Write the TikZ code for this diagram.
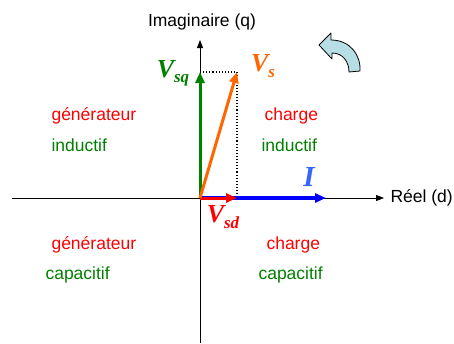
\documentclass[tikz,border=0pt]{standalone}
\usepackage{fontspec}
\setmainfont{Liberation Serif}
\newfontfamily\axfont{Liberation Sans}
\definecolor{vgreen}{RGB}{0,128,0}
\definecolor{vorange}{RGB}{255,102,0}
\definecolor{vred}{RGB}{255,0,0}
\definecolor{vblue}{RGB}{0,0,255}
\definecolor{ilabel}{RGB}{51,102,255}
\definecolor{rotfill}{RGB}{183,222,228}
\usetikzlibrary{arrows.meta,positioning}
\newcommand{\phasor}[2]{\bfseries\itshape #1\raisebox{-0.45ex}{\fontsize{17}{17}\selectfont #2}}

\begin{document}
\begin{tikzpicture}[x=1pt,y=-1pt,
  axis/.style={black, line width=0.8pt, -{Triangle[length=8pt,width=6pt]}},
  vec/.style={line width=3pt, -{Triangle[length=11pt,width=9pt]}},
  quad/.style={font=\axfont\fontsize{17.5}{19}\selectfont, anchor=west},
  vlab/.style={font=\fontsize{26}{27}\selectfont}
]
  \useasboundingbox (0,0) rectangle (454,343);
  % axes
  \coordinate (O) at (200,198);
  \coordinate (xl) at (12,198);
  \coordinate (xr) at (384,198);
  \coordinate (yb) at (200,343);
  \coordinate (yt) at (200,40);
  \draw[axis] (xl) -- (xr);
  \draw[axis] (yb) -- (yt);
  \node[font=\axfont\fontsize{17.5}{19}\selectfont, anchor=west] (reel) at (387,198) {Réel (d)};
  \node[font=\axfont\fontsize{17.5}{19}\selectfont] (imag) at (202,22) {Imaginaire (q)};
  % projection
  \coordinate (Vsq) at (200,72);
  \coordinate (Vs) at (237,72);
  \coordinate (Vsd) at (237,198);
  \coordinate (Itip) at (326,198);
  \draw[dotted, line width=1.1pt] (Vsq) -- (Vs) -- (Vsd);
  % phasors
  \draw[vec, vblue, line width=4pt] (O) -- (Itip);
  \draw[vec, vred] (O) -- (Vsd);
  \draw[vec, vgreen] (O) -- (Vsq);
  \draw[vec, vorange] (O) -- (Vs);
  \node[vlab, text=vgreen] (lsq) at (173,73) {\phasor{V}{sq}};
  \node[vlab, text=vorange] (ls) at (263,66) {\phasor{V}{s}};
  \node[vlab, text=vred] (lsd) at (223,217) {\phasor{V}{sd}};
  \node[vlab, text=ilabel, font=\fontsize{29}{30}\selectfont] (li) at (309,177) {\bfseries\itshape I};
  % quadrants
  \node[quad, text=vred] (gi) at (48,116) {générateur};
  \node[quad, text=vgreen] (gi2) at (48,145) {inductif};
  \node[quad, text=vred] (ci) at (261,116) {charge};
  \node[quad, text=vgreen] (ci2) at (258,145) {inductif};
  \node[quad, text=vred] (gc) at (48,245) {générateur};
  \node[quad, text=vgreen] (gc2) at (42,275) {capacitif};
  \node[quad, text=vred] (cc) at (263,245) {charge};
  \node[quad, text=vgreen] (cc2) at (255,275) {capacitif};
  % rotation sense
  \filldraw[fill=rotfill, draw=black, line width=0.8pt, line join=round]
    (319,45) -- (331,33) -- (331,40) .. controls (350,40) and (361,55) .. (360,71)
    -- (349,72) .. controls (349,62) and (343,53) .. (332,53) -- (332,59) -- cycle;
\end{tikzpicture}
\end{document}
